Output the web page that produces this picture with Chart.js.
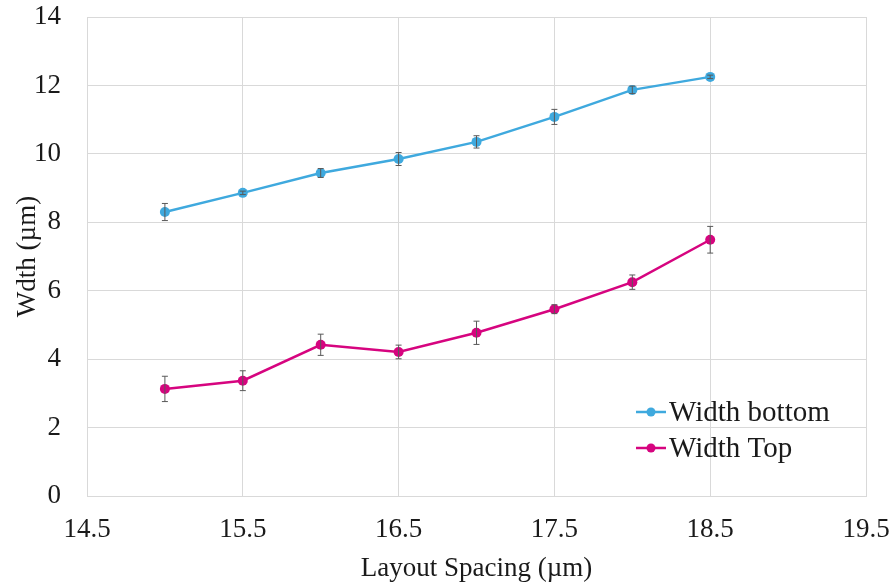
<!DOCTYPE html>
<html>
<head>
<meta charset="utf-8">
<script src="https://cdn.jsdelivr.net/npm/chart.js@4"></script>
<style>
  html, body { margin: 0; padding: 0; background: #fff; }
  #wrap { width: 895px; height: 588px; }
</style>
</head>
<body>
<div id="wrap"><canvas id="widthChart"></canvas></div>
<script>
// --- data ---
const spacing = [15, 15.5, 16, 16.5, 17, 17.5, 18, 18.5];
const widthBottom = [8.30, 8.86, 9.44, 9.85, 10.35, 11.08, 11.87, 12.25];
const widthBottomErr = [0.25, 0.05, 0.13, 0.19, 0.18, 0.22, 0.11, 0.05];
const widthTop = [3.13, 3.37, 4.42, 4.21, 4.77, 5.46, 6.25, 7.49];
const widthTopErr = [0.37, 0.29, 0.31, 0.20, 0.34, 0.13, 0.21, 0.39];
const xTicks = [14.5, 15.5, 16.5, 17.5, 18.5, 19.5];
const yTicks = [0, 2, 4, 6, 8, 10, 12, 14];

const FONT = "'Liberation Serif', 'DejaVu Serif', serif";
const BLUE = '#3fa9de';
const PINK = '#d6047f';
const GRID = '#d9d9d9';
const TEXT = '#1a1a1a';

const toPoints = (ys, errs) => spacing.map((x, i) => ({ x: x, y: ys[i], err: errs[i] }));

// error bars drawn through the chart's own scales
const errorBars = {
    id: 'errorBars',
    afterDatasetsDraw(chart) {
        const { ctx, scales: { x, y } } = chart;
        ctx.save();
        ctx.strokeStyle = '#595959';
        ctx.lineWidth = 1;
        chart.data.datasets.forEach(ds => {
            ds.data.forEach(p => {
                const px = x.getPixelForValue(p.x);
                const top = y.getPixelForValue(p.y + p.err);
                const bot = y.getPixelForValue(p.y - p.err);
                ctx.beginPath();
                ctx.moveTo(px, top); ctx.lineTo(px, bot);
                ctx.moveTo(px - 3, top); ctx.lineTo(px + 3, top);
                ctx.moveTo(px - 3, bot); ctx.lineTo(px + 3, bot);
                ctx.stroke();
            });
        });
        ctx.restore();
    }
};

// legend inside the plot, bottom right
const insideLegend = {
    id: 'insideLegend',
    afterDraw(chart) {
        const { ctx } = chart;
        ctx.save();
        ctx.font = '29px ' + FONT;
        ctx.textBaseline = 'middle';
        chart.data.datasets.forEach((ds, i) => {
            const ly = 412 + i * 36;
            ctx.strokeStyle = ds.borderColor;
            ctx.lineWidth = 2.5;
            ctx.beginPath();
            ctx.moveTo(636, ly); ctx.lineTo(666, ly);
            ctx.stroke();
            ctx.fillStyle = ds.borderColor;
            ctx.beginPath();
            ctx.arc(651, ly, 4.5, 0, Math.PI * 2);
            ctx.fill();
            ctx.fillStyle = TEXT;
            ctx.fillText(ds.label, 669, ly + 1);
        });
        ctx.restore();
    }
};

new Chart(document.getElementById('widthChart').getContext('2d'), {
    type: 'line',
    data: {
        datasets: [
            {
                label: 'Width bottom',
                data: toPoints(widthBottom, widthBottomErr),
                borderColor: BLUE,
                backgroundColor: BLUE,
                borderWidth: 2.5,
                pointRadius: 5,
                pointBorderWidth: 0,
                tension: 0
            },
            {
                label: 'Width Top',
                data: toPoints(widthTop, widthTopErr),
                borderColor: PINK,
                backgroundColor: PINK,
                borderWidth: 2.5,
                pointRadius: 5,
                pointBorderWidth: 0,
                tension: 0
            }
        ]
    },
    options: {
        responsive: true,
        maintainAspectRatio: false,
        animation: false,
        layout: { padding: 0 },
        plugins: { legend: { display: false }, tooltip: { enabled: false } },
        scales: {
            x: {
                type: 'linear',
                min: 14.5,
                max: 19.5,
                afterBuildTicks: s => { s.ticks = xTicks.map(v => ({ value: v })); },
                afterFit: s => {
                    s.height = 92;
                    s.paddingLeft = 0;
                    s.paddingRight = 29;
                },
                grid: { color: GRID, lineWidth: 1, drawTicks: false },
                border: { color: GRID },
                ticks: {
                    color: TEXT,
                    font: { family: FONT, size: 27 },
                    padding: 18,
                    maxRotation: 0,
                    callback: v => v.toFixed(1)
                },
                title: {
                    display: true,
                    text: 'Layout Spacing (µm)',
                    color: TEXT,
                    font: { family: FONT, size: 27 },
                    padding: { top: 0, bottom: 3 }
                }
            },
            y: {
                min: 0,
                max: 14,
                afterBuildTicks: s => { s.ticks = yTicks.map(v => ({ value: v })); },
                afterFit: s => {
                    s.width = 87;
                    s.paddingTop = 17;
                    s.paddingBottom = 0;
                },
                grid: { color: GRID, lineWidth: 1, drawTicks: false },
                border: { color: GRID },
                ticks: {
                    color: TEXT,
                    font: { family: FONT, size: 27 },
                    padding: 26
                },
                title: {
                    display: true,
                    text: 'Wdth (µm)',
                    color: TEXT,
                    font: { family: FONT, size: 27 },
                    padding: { top: 12, bottom: 0 }
                }
            }
        }
    },
    plugins: [errorBars, insideLegend]
});
</script>
</body>
</html>
